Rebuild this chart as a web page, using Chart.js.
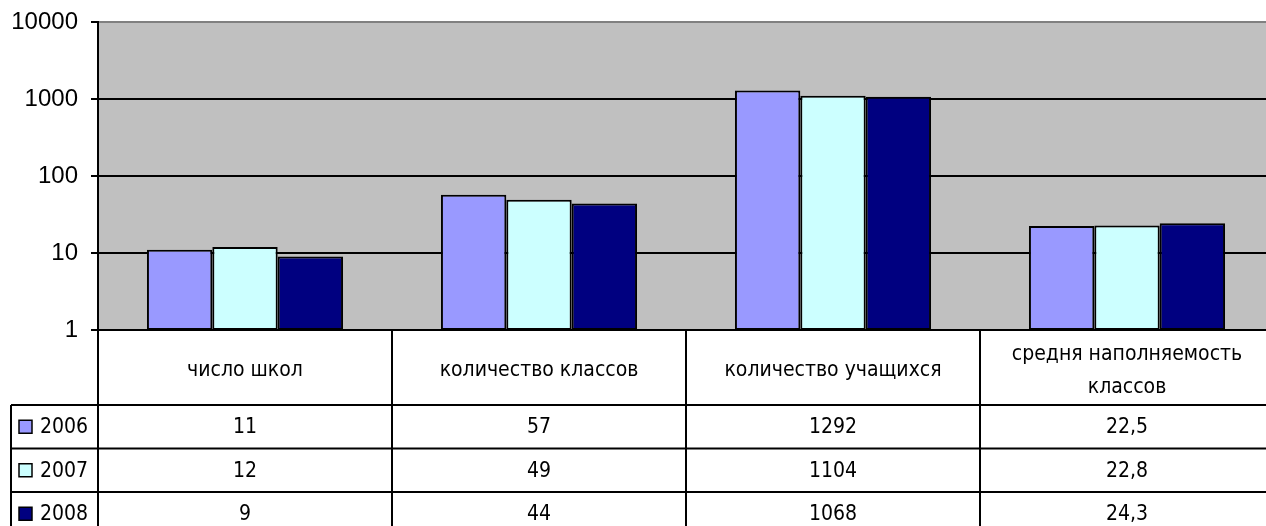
<!DOCTYPE html>
<html>
<head>
<meta charset="utf-8">
<script src="https://cdn.jsdelivr.net/npm/chart.js@4.4.0/dist/chart.umd.min.js"></script>
<style>
  html, body { margin: 0; padding: 0; overflow: hidden; background: #fff; }
  #wrap { width: 1274px; height: 526px; }
</style>
</head>
<body>
<div id="wrap"><canvas id="chart" width="1274" height="526"></canvas></div>
<script>
// ---- data ----
const categories = [
  ['число школ'],
  ['количество классов'],
  ['количество учащихся'],
  ['средня наполняемость', 'классов']
];
const years = ['2006', '2007', '2008'];
const values2006 = [11, 57, 1292, 22.5];
const values2007 = [12, 49, 1104, 22.8];
const values2008 = [9, 44, 1068, 24.3];
const yTicks = [1, 10, 100, 1000, 10000];

const colors = ['#9999FF', '#CCFFFF', '#000080'];
const series = [values2006, values2007, values2008];
const tableFont = '21px "DejaVu Sans Condensed", "DejaVu Sans", sans-serif';

const fmt = v => String(v).replace('.', ',');

// grey plot area
const plotBg = {
  id: 'plotBg',
  beforeDraw(chart) {
    const { ctx, chartArea: a } = chart;
    ctx.save();
    ctx.fillStyle = '#C0C0C0';
    ctx.fillRect(a.left, a.top, a.right - a.left, a.bottom - a.top);
    ctx.restore();
  }
};

// data table under the plot (Excel style)
const dataTable = {
  id: 'dataTable',
  afterDraw(chart) {
    const { ctx, chartArea: a, scales: { x } } = chart;
    const colW = x.getPixelForValue(1) - x.getPixelForValue(0);
    const headTop = a.bottom;
    const headH = 75;
    const rowH = 43.5;
    const legLeft = 11;
    const n = categories.length;

    ctx.save();
    ctx.strokeStyle = '#000';
    ctx.lineWidth = 2;
    ctx.beginPath();
    // horizontal lines
    ctx.moveTo(a.left, headTop); ctx.lineTo(a.right, headTop);
    for (let r = 0; r <= years.length; r++) {
      const y = headTop + headH + r * rowH;
      ctx.moveTo(legLeft, y); ctx.lineTo(a.right, y);
    }
    // vertical lines
    const bottom = headTop + headH + years.length * rowH;
    for (let c = 0; c <= n; c++) {
      const xx = x.getPixelForValue(c) - colW / 2;
      ctx.moveTo(xx, headTop); ctx.lineTo(xx, bottom);
    }
    ctx.moveTo(legLeft, headTop + headH); ctx.lineTo(legLeft, bottom);
    ctx.stroke();

    ctx.fillStyle = '#000';
    ctx.font = tableFont;
    ctx.textAlign = 'center';
    ctx.textBaseline = 'middle';
    // header
    categories.forEach((lines, i) => {
      const cx = x.getPixelForValue(i);
      const lh = 33;
      const y0 = headTop + 41 - (lines.length - 1) * lh / 2;
      lines.forEach((t, k) => ctx.fillText(t, cx, y0 + k * lh));
    });
    // rows
    years.forEach((yr, r) => {
      const cy = headTop + headH + r * rowH + rowH / 2;
      series[r].forEach((v, i) => {
        ctx.fillText(fmt(v), x.getPixelForValue(i), cy + 1);
      });
      // legend key
      ctx.fillStyle = colors[r];
      ctx.fillRect(19, cy - 6.5, 13, 13);
      ctx.lineWidth = 1.5;
      ctx.strokeRect(19, cy - 6.5, 13, 13);
      ctx.fillStyle = '#000';
      ctx.textAlign = 'left';
      ctx.fillText(yr, 40, cy + 1);
      ctx.textAlign = 'center';
    });
    ctx.restore();
  }
};

new Chart(document.getElementById('chart'), {
  type: 'bar',
  data: {
    labels: categories.map(c => c.join(' ')),
    datasets: years.map((yr, i) => ({
      label: yr,
      data: series[i],
      backgroundColor: colors[i],
      borderColor: '#000',
      borderWidth: 2,
      borderSkipped: false,
      categoryPercentage: 0.667,
      barPercentage: 1
    }))
  },
  options: {
    responsive: false,
    animation: false,
    devicePixelRatio: 1,
    layout: { padding: { left: 0, top: 22, right: 0, bottom: 196 } },
    plugins: { legend: { display: false }, tooltip: { enabled: false } },
    scales: {
      x: { display: false },
      y: {
        type: 'logarithmic',
        min: 1,
        max: 10000,
        afterBuildTicks: s => { s.ticks = yTicks.map(v => ({ value: v })); },
        afterFit: s => { s.width = 98; },
        ticks: {
          color: '#000',
          padding: 13,
          font: { family: '"Liberation Sans", Arial, sans-serif', size: 24, lineHeight: 0.6 },
          callback: v => String(v)
        },
        grid: {
          color: c => c.tick && c.tick.value === 10000 ? '#808080' : '#000',
          lineWidth: 2,
          tickLength: 7,
          tickColor: '#000'
        },
        border: { color: '#000', width: 2 }
      }
    }
  },
  plugins: [plotBg, dataTable]
});
</script>
</body>
</html>
